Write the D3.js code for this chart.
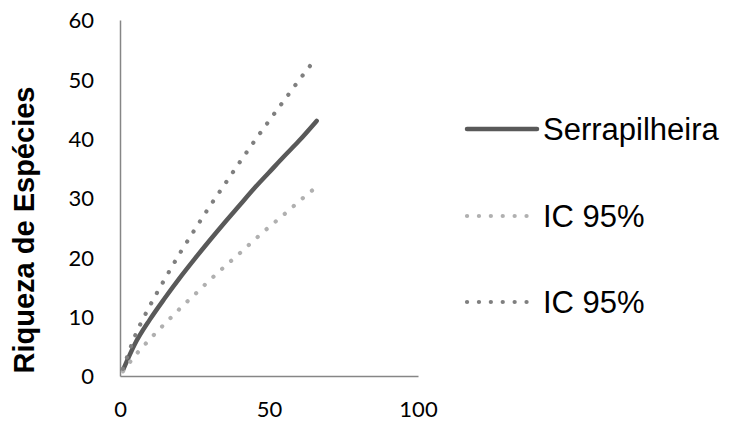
<!DOCTYPE html>
<html>
<head>
<meta charset="utf-8">
<script src="https://cdn.jsdelivr.net/npm/d3@7"></script>
<style>
  body { margin: 0; background: #fff; }
  .tick text { font-family: Lato, "Open Sans", sans-serif; font-size: 22px; fill: #000; }
</style>
</head>
<body>
<script>
// samples (x) and curves
var samples  = [1, 5, 10, 15, 20, 25, 30, 35, 40, 45, 50, 55, 60, 66];
var serrapilheira = [1.0, 5.4, 9.5, 13.1, 16.5, 19.7, 22.8, 25.8, 28.7, 31.6, 34.3, 37.0, 39.6, 43.0];
var icLower  = [0.8, 3.4, 6.2, 8.8, 11.3, 13.7, 16.1, 18.4, 20.6, 22.9, 25.1, 27.2, 29.4, 31.9];
var icUpper  = [1.2, 6.7, 11.8, 16.3, 20.6, 24.6, 28.5, 32.2, 35.9, 39.5, 43.0, 46.4, 49.8, 53.7];

var xTicks = [0, 50, 100];
var yTicks = [0, 10, 20, 30, 40, 50, 60];

var seriesNames = ["Serrapilheira", "IC 95%", "IC 95%"];
var seriesValues = [serrapilheira, icLower, icUpper];
var seriesColors = ["#595959", "#b0b0b0", "#7f7f7f"];

var width = 729, height = 427;

var x = d3.scaleLinear().domain([0, 100]).range([120, 418]);
var y = d3.scaleLinear().domain([0, 60]).range([376, 20]);

var svg = d3.select("body").append("svg")
    .attr("width", width)
    .attr("height", height);

// axes
var xAxis = svg.append("g")
    .attr("transform", "translate(0," + y(0) + ")")
    .call(d3.axisBottom(x).tickValues(xTicks).tickSize(0).tickPadding(25));
var yAxis = svg.append("g")
    .attr("transform", "translate(" + x(0) + ",0)")
    .call(d3.axisLeft(y).tickValues(yTicks).tickSize(0).tickPadding(26));
[xAxis, yAxis].forEach(function(a) {
  a.select(".domain").attr("stroke", "#868686").attr("stroke-width", 1.5);
});
yAxis.selectAll(".tick text").attr("dy", "0.35em");

// lines
var line = d3.line()
    .x(function(d, i) { return x(samples[i]); })
    .y(function(d) { return y(d); })
    .curve(d3.curveMonotoneX);

function styleSeries(sel, i) {
  sel.attr("fill", "none")
     .attr("stroke", seriesColors[i])
     .attr("stroke-linecap", "round");
  if (i === 0) {
    sel.attr("stroke-width", 4.5);
  } else {
    sel.attr("stroke-width", 4.2).attr("stroke-dasharray", "0.1 11.8");
  }
}

seriesValues.forEach(function(vals, i) {
  svg.append("path")
      .datum(vals)
      .attr("d", line)
      .call(styleSeries, i);
});

// legend
var legendY = [129, 216, 302];
var legend = svg.append("g");
seriesNames.forEach(function(name, i) {
  var g = legend.append("g").attr("transform", "translate(0," + legendY[i] + ")");
  g.append("path")
      .attr("d", i === 0 ? "M467,0H537" : "M467,0H532")
      .call(styleSeries, i);
  g.append("text")
      .attr("x", 543)
      .attr("dy", "0.35em")
      .style("font-family", "Liberation Sans, Arial, sans-serif")
      .style("font-size", "31px")
      .text(name);
});

// y title
svg.append("text")
    .attr("transform", "translate(34,230) rotate(-90)")
    .attr("text-anchor", "middle")
    .style("font-family", "Liberation Sans, Arial, sans-serif")
    .style("font-size", "29px")
    .style("font-weight", "bold")
    .text("Riqueza de Espécies");
</script>
</body>
</html>
